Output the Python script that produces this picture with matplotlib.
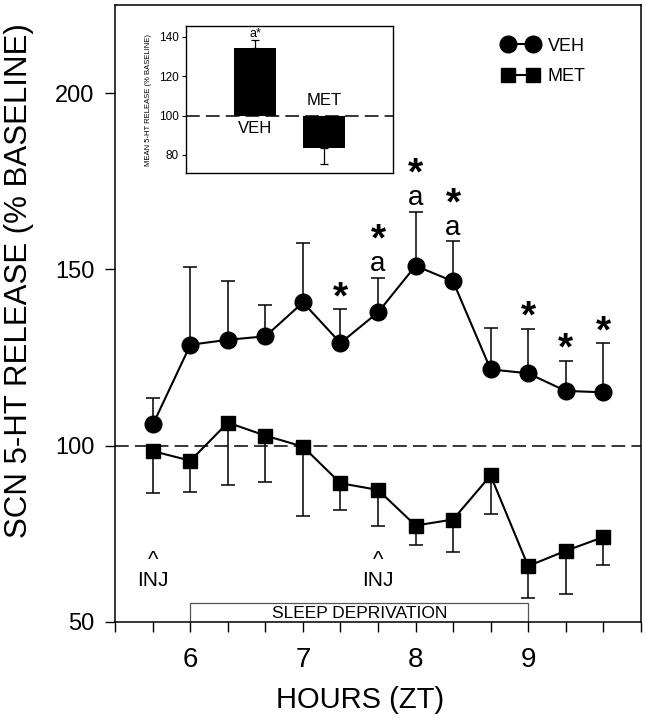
import numpy as np
import matplotlib
matplotlib.use('Agg')
import matplotlib.pyplot as plt
from matplotlib.patches import Rectangle

plt.rcParams['font.family'] = ['Liberation Sans', 'DejaVu Sans']

# time points (hours, ZT)
hours = [5.667, 6.0, 6.333, 6.667, 7.0, 7.333, 7.667, 8.0, 8.333, 8.667, 9.0, 9.333, 9.667]

veh_mean = [106.0, 128.6, 130.0, 131.0, 140.6, 129.1, 137.8, 151.0, 146.6, 121.6, 120.5, 115.5, 115.1]
veh_sem = [7.5, 22.2, 16.8, 9.0, 16.8, 9.6, 9.7, 15.4, 11.3, 11.8, 12.6, 8.6, 13.9]
met_mean = [98.4, 95.7, 106.5, 102.8, 99.7, 89.3, 87.4, 77.3, 79.0, 91.5, 65.8, 70.1, 74.0]
met_sem = [11.9, 8.9, 17.8, 13.2, 19.8, 7.5, 10.1, 5.5, 9.1, 10.9, 9.0, 12.1, 7.8]

# significance marks on VEH points
star_idx = [5, 6, 7, 8, 10, 11, 12]
a_idx = [6, 7, 8]

inj_hours = [5.667, 7.667]
sleep_dep = (6.0, 9.0)

# inset: mean release over session
inset_groups = ['VEH', 'MET']
inset_mean = [134.0, 83.6]
inset_sem = [4.1, 8.3]

fig = plt.figure(figsize=(6.45, 7.2), dpi=100)
ax = fig.add_axes([0.1788, 0.1365, 0.8145, 0.8565])

ax.axhline(100, color='black', lw=1.1, dashes=(9, 4), zorder=1)

veh_err = [np.zeros(len(veh_sem)), veh_sem]
met_err = [met_sem, np.zeros(len(met_sem))]
ax.errorbar(hours, veh_mean, yerr=veh_err, fmt='none', ecolor='black',
            elinewidth=1.1, capsize=4.7, capthick=1.1, zorder=2)
ax.errorbar(hours, met_mean, yerr=met_err, fmt='none', ecolor='black',
            elinewidth=1.1, capsize=4.7, capthick=1.1, zorder=2)
ax.plot(hours, veh_mean, '-o', color='black', lw=1.5, ms=12, zorder=3, label='VEH')
ax.plot(hours, met_mean, '-s', color='black', lw=1.5, ms=10, zorder=3, label='MET')

for i in star_idx:
    top = veh_mean[i] + veh_sem[i]
    off = 27 if i in a_idx else 8
    ax.annotate('*', (hours[i], top), xytext=(0, off), textcoords='offset points',
                ha='center', va='center', fontsize=28, fontweight='bold')
for i in a_idx:
    top = veh_mean[i] + veh_sem[i]
    ax.annotate('a', (hours[i], top), xytext=(0, 10), textcoords='offset points',
                ha='center', va='center', fontsize=20)

for h in inj_hours:
    ax.text(h, 67.4, '^', ha='center', va='center', fontsize=16)
    ax.text(h, 61.7, 'INJ', ha='center', va='center', fontsize=15)

ax.add_patch(Rectangle((sleep_dep[0], 50), sleep_dep[1] - sleep_dep[0], 5.4,
                       fill=False, edgecolor='#555555', lw=0.9, zorder=1))
ax.text(np.mean(sleep_dep), 52.4, 'SLEEP DEPRIVATION', ha='center', va='center', fontsize=12.5)

ax.set_xlim(5.333, 10.0)
ax.set_ylim(50, 225)
ax.set_xticks([6, 7, 8, 9])
ax.set_xticklabels(['6', '7', '8', '9'], fontsize=20)
ax.set_xticks(np.arange(16, 31) / 3.0, minor=True)
ax.set_yticks([50, 100, 150, 200])
ax.tick_params(axis='y', labelsize=17, length=7, width=1, direction='out', pad=8)
ax.tick_params(axis='x', which='both', length=7, width=1, direction='out')
ax.tick_params(axis='x', which='major', pad=11)
for s in ax.spines.values():
    s.set_linewidth(1.1)

ax.set_xlabel('HOURS (ZT)', fontsize=21)
ax.xaxis.set_label_coords(0.466, -0.104)
ax.set_ylabel('SCN 5-HT RELEASE (% BASELINE)', fontsize=22.5)
ax.yaxis.set_label_coords(-0.155, 0.554)

ax.legend(loc='upper left', bbox_to_anchor=(0.72, 0.962), numpoints=2, frameon=False,
          fontsize=13, handlelength=2.0, handletextpad=0.5, borderpad=0, labelspacing=0.75)

# inset
ins = fig.add_axes([0.2884, 0.7593, 0.3214, 0.2046])
ins.bar([0, 1], [m - 100 for m in inset_mean], bottom=100, width=0.6, color='black', zorder=2)
ins.errorbar([0], [inset_mean[0]], yerr=[[0], [inset_sem[0]]], fmt='none', ecolor='black',
             elinewidth=0.9, capsize=3, capthick=0.9, zorder=2)
ins.errorbar([1], [inset_mean[1]], yerr=[[inset_sem[1]], [0]], fmt='none', ecolor='black',
             elinewidth=0.9, capsize=3, capthick=0.9, zorder=2)
ins.axhline(100, color='black', lw=1.1, dashes=(9, 4), zorder=1)
ins.text(0, inset_mean[0] + inset_sem[0] + 0.3, 'a*', ha='center', va='bottom', fontsize=9)
ins.text(0, 93.5, inset_groups[0], ha='center', va='center', fontsize=12)
ins.text(1, 107.5, inset_groups[1], ha='center', va='center', fontsize=12)
ins.set_xlim(-1, 2)
ins.set_ylim(70.7, 145.4)
ins.set_xticks([])
ins.set_yticks([80, 100, 120, 140])
ins.tick_params(axis='y', labelsize=8.5, length=3, width=0.8, pad=2)
for s in ins.spines.values():
    s.set_linewidth(1.0)
ins.set_ylabel('MEAN 5-HT RELEASE (% BASELINE)', fontsize=5.5, labelpad=5)

fig.savefig('out.png', dpi=100)
